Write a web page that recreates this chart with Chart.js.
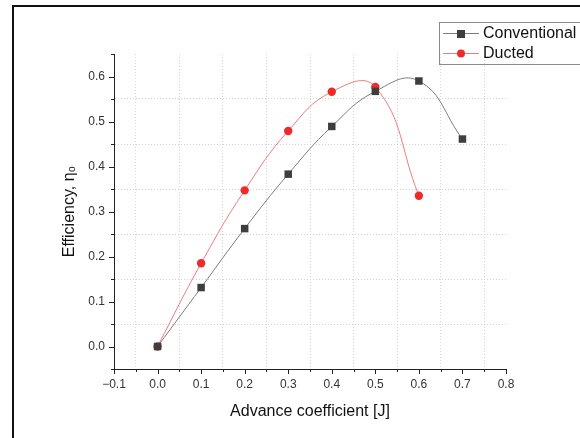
<!DOCTYPE html>
<html>
<head>
<meta charset="utf-8">
<script src="https://cdn.jsdelivr.net/npm/chart.js@4.4.1/dist/chart.umd.min.js"></script>
<style>
  body { margin: 0; background: #fff; }
  #wrap { position: relative; width: 580px; height: 438px; overflow: hidden; }
  #frame { position: absolute; left: 12px; top: 5px; width: 700px; height: 600px;
           border-left: 2px solid #111; border-top: 2px solid #111; }
  #myChart { position: absolute; left: 0; top: 0; }
</style>
</head>
<body>
<div id="wrap">
  <div id="frame"></div>
  <canvas id="myChart" width="580" height="438"></canvas>
</div>
<script>
// advance coefficient J
let advance = [0, 0.1, 0.2, 0.3, 0.4, 0.5, 0.6, 0.7]
let conventional = [0, 0.131, 0.262, 0.383, 0.489, 0.567, 0.590, 0.461]
let ducted = [0, 0.185, 0.347, 0.479, 0.566, 0.577, 0.335]

let xMin = -0.1, xMax = 0.8, xStep = 0.05
let yMin = -0.05, yMax = 0.65, yStep = 0.05

let fuente = "'Liberation Sans', Arial, sans-serif"

function puntos(valores) {
    let arr = []
    for (let i in valores) {
        arr.push({ x: advance[i], y: valores[i] })
    }
    return arr
}

function esMayor(v) {
    return Math.abs(Math.round(v * 100)) % 10 === 0
}

function etiqueta(v) {
    if (!esMayor(v)) return ""
    return v.toFixed(1).replace("-", "\u2212")
}

// small canvas for the legend: line with marker
function iconoLeyenda(color, lineColor, estilo) {
    let c = document.createElement("canvas")
    c.width = 36
    c.height = 10
    let g = c.getContext("2d")
    g.strokeStyle = lineColor
    g.lineWidth = 1
    g.beginPath()
    g.moveTo(0, 5.5)
    g.lineTo(36, 5.5)
    g.stroke()
    g.fillStyle = color
    if (estilo === "rect") {
        g.fillRect(14, 2, 8, 8)
    } else {
        g.beginPath()
        g.arc(18, 5.5, 4, 0, Math.PI * 2)
        g.fill()
    }
    return c
}

// tick marks: long for labelled ticks, short for the 0.05 ones
const marcas = {
    id: "marcas",
    afterDraw(chart) {
        const ctx = chart.ctx
        const xs = chart.scales.x, ys = chart.scales.y
        ctx.save()
        ctx.strokeStyle = "#222"
        ctx.lineWidth = 1
        ctx.beginPath()
        xs.ticks.forEach(t => {
            let px = Math.round(xs.getPixelForValue(t.value)) + 0.5
            let len = esMayor(t.value) ? 5 : 3
            ctx.moveTo(px, xs.top)
            ctx.lineTo(px, xs.top + len)
        })
        ys.ticks.forEach(t => {
            let py = Math.round(ys.getPixelForValue(t.value)) + 0.5
            let len = esMayor(t.value) ? 5 : 3
            ctx.moveTo(ys.right, py)
            ctx.lineTo(ys.right - len, py)
        })
        ctx.stroke()

        // legend box
        let bx = 439.5, by = 22.5, bh = 42
        ctx.strokeStyle = "#8a8a8a"
        ctx.strokeRect(bx, by, 200, bh)
        ctx.font = "16px " + fuente
        ctx.fillStyle = "#111"
        ctx.textBaseline = "middle"
        chart.data.datasets.forEach((ds, i) => {
            let yy = 33 + i * 20
            ctx.drawImage(ds.icono, 443, yy - 5)
            ctx.fillText(ds.label, 483, yy + 1)
        })
        ctx.restore()
    }
}

var graf = document.getElementById("myChart").getContext("2d")

const data = {
    datasets: [{
        label: "Conventional",
        data: puntos(conventional),
        borderColor: "#7c7c7c",
        borderWidth: 1,
        backgroundColor: "#3e3e3e",
        pointStyle: "rect",
        pointRadius: 5.3,
        pointBorderWidth: 0,
        tension: 0.45,
        icono: iconoLeyenda("#3e3e3e", "#7c7c7c", "rect")
    }, {
        label: "Ducted",
        data: puntos(ducted),
        borderColor: "#f27a7a",
        borderWidth: 1,
        backgroundColor: "#ee2b2b",
        pointStyle: "circle",
        pointRadius: 4.2,
        pointBorderWidth: 0,
        tension: 0.45,
        icono: iconoLeyenda("#ee2b2b", "#f27a7a", "circle")
    }]
}

const config = {
    type: "line",
    data,
    options: {
        responsive: false,
        animation: false,
        layout: { padding: { left: 0, right: 74, top: 54, bottom: 0 } },
        plugins: { legend: { display: false }, tooltip: { enabled: false } },
        scales: {
            x: {
                type: "linear",
                min: xMin,
                max: xMax,
                afterFit: s => { s.height = 69 },
                ticks: {
                    stepSize: xStep,
                    autoSkip: false,
                    maxRotation: 0,
                    padding: 8,
                    color: "#333",
                    font: { family: fuente, size: 12 },
                    callback: v => etiqueta(v)
                },
                grid: {
                    drawTicks: false,
                    lineWidth: 1,
                    color: c => esMayor(c.tick.value) ? "rgba(0,0,0,0)" : "#d4d4d4"
                },
                border: { color: "#222", width: 1, dash: [1, 2] },
                title: {
                    display: true,
                    text: "Advance coefficient [J]",
                    color: "#111",
                    font: { family: fuente, size: 16 },
                    padding: { top: 0, bottom: 17 }
                }
            },
            y: {
                min: yMin,
                max: yMax,
                afterFit: s => { s.width = 114 },
                ticks: {
                    stepSize: yStep,
                    autoSkip: false,
                    padding: 9,
                    color: "#333",
                    font: { family: fuente, size: 12 },
                    callback: v => etiqueta(v)
                },
                grid: {
                    drawTicks: false,
                    lineWidth: 1,
                    color: c => (esMayor(c.tick.value) || c.tick.value > 0.6) ? "rgba(0,0,0,0)" : "#d4d4d4"
                },
                border: { color: "#222", width: 1, dash: [1, 2] },
                title: {
                    display: true,
                    text: "Efficiency, \u03b7\u2080",
                    color: "#111",
                    font: { family: fuente, size: 16 },
                    padding: { top: 60, bottom: 0 }
                }
            }
        }
    },
    plugins: [marcas]
}

var myChart = new Chart(graf, config)
</script>
</body>
</html>
